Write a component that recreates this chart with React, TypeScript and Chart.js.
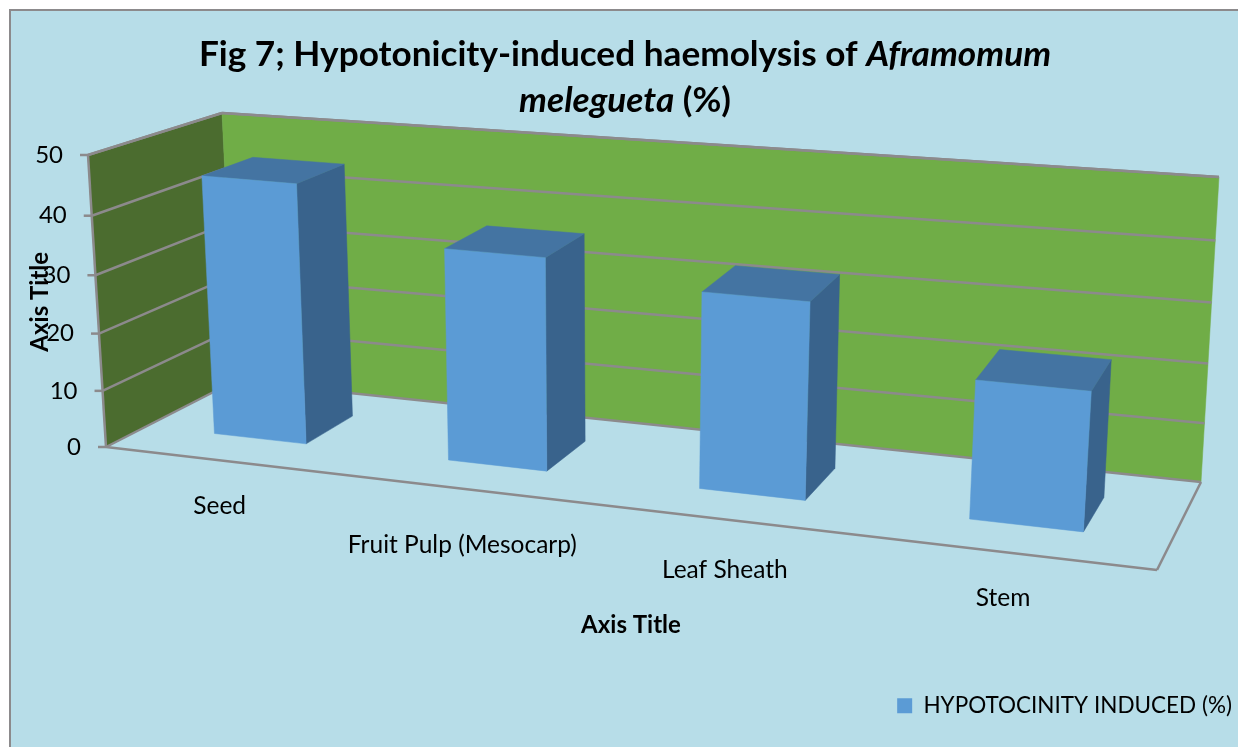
import React, { useEffect, useRef } from "react";
import { Chart, registerables } from "chart.js";

Chart.register(...registerables);

const categories = ["Seed", "Fruit Pulp (Mesocarp)", "Leaf Sheath", "Stem"];
const seriesName = "HYPOTOCINITY INDUCED (%)";
const seriesValues = [45.2, 36.5, 33.2, 23.1];
const yTicks = [0, 10, 20, 30, 40, 50];
const titleLine1 = [
  { text: "Fig 7; Hypotonicity-induced haemolysis of ", italic: false },
  { text: "Aframomum", italic: true },
];
const titleLine2 = [
  { text: "melegueta", italic: true },
  { text: " (%)", italic: false },
];

const FONT = "Lato, 'Noto Sans', sans-serif";
const BG = "#b7dde8";
const GREY = "#8c8a8c";

type Pt = [number, number];
// Screen-space frame of the 3D box (floor and top corners)
const F0: Pt = [106, 447], F1: Pt = [1157, 570], B0: Pt = [235, 381], B1: Pt = [1201, 482];
const T0: Pt = [88, 155], T1: Pt = [1179, 250], BT0: Pt = [222, 113], BT1: Pt = [1219, 177];
const BAR_W0 = 0.32, BAR_W1 = 0.72, K = 1.155, KV = 1.05;
const LABEL_NUDGE: Pt[] = [[-2, 46], [-3, 56], [-2, 50], [-5, 46]];

const lerp = (a: Pt, b: Pt, t: number): Pt => [a[0] + (b[0] - a[0]) * t, a[1] + (b[1] - a[1]) * t];
const warp = (u: number) => u / (K + (1 - K) * u);
const warpV = (v: number) => v / (KV + (1 - KV) * v);
function project(u: number, v: number, w: number): Pt {
  const s = warp(u);
  const floor = lerp(lerp(F0, F1, s), lerp(B0, B1, s), w);
  const top = lerp(lerp(T0, T1, s), lerp(BT0, BT1, s), w);
  return lerp(floor, top, warpV(v));
}

function poly(ctx: CanvasRenderingContext2D, pts: Pt[], fill: string) {
  ctx.beginPath();
  pts.forEach((p, i) => (i ? ctx.lineTo(p[0], p[1]) : ctx.moveTo(p[0], p[1])));
  ctx.closePath();
  ctx.fillStyle = fill;
  ctx.fill();
  ctx.strokeStyle = fill;
  ctx.lineWidth = 0.5;
  ctx.stroke();
}
function line(ctx: CanvasRenderingContext2D, a: Pt, b: Pt) {
  ctx.beginPath();
  ctx.moveTo(a[0], a[1]);
  ctx.lineTo(b[0], b[1]);
  ctx.strokeStyle = GREY;
  ctx.lineWidth = 2.5;
  ctx.stroke();
}
function drawRuns(ctx: CanvasRenderingContext2D, runs: { text: string; italic: boolean }[], cx: number, y: number, size: number) {
  const f = (it: boolean) => `${it ? "italic " : ""}bold ${size}px ${FONT}`;
  let total = 0;
  runs.forEach((r) => { ctx.font = f(r.italic); total += ctx.measureText(r.text).width; });
  let x = cx - total / 2;
  ctx.textAlign = "left";
  ctx.textBaseline = "middle";
  ctx.fillStyle = "#000";
  runs.forEach((r) => { ctx.font = f(r.italic); ctx.fillText(r.text, x, y); x += ctx.measureText(r.text).width; });
}

const box3d = {
  id: "box3d",
  beforeDraw(chart: any) {
    const { ctx, width, height } = chart;
    ctx.save();
    ctx.fillStyle = "#fff";
    ctx.fillRect(0, 0, width, height);
    ctx.fillStyle = BG;
    ctx.fillRect(10, 10, width - 10, height - 10);
    ctx.fillStyle = GREY;
    ctx.fillRect(9, 9, width - 9, 2);
    ctx.fillRect(9, 9, 2, height - 9);
    ctx.restore();
    drawRuns(ctx, titleLine1, 625, 55, 35.2);
    drawRuns(ctx, titleLine2, 625, 101, 35.2);
  },
  beforeDatasetsDraw(chart: any) {
    const { ctx, chartArea, scales } = chart;
    const y = scales.y;
    const vOf = (val: number) => (chartArea.bottom - y.getPixelForValue(val)) / (chartArea.bottom - chartArea.top);
    ctx.save();
    poly(ctx, [F0, B0, BT0, T0], "#4b6c2f");
    poly(ctx, [B0, B1, BT1, BT0], "#70ad47");
    line(ctx, F0, F1);
    line(ctx, F1, B1);
    line(ctx, B1, B0);
    line(ctx, B0, F0);
    line(ctx, T0, BT0);
    line(ctx, BT0, BT1);
    line(ctx, F0, T0);
    yTicks.forEach((val) => {
      const v = vOf(val);
      const a = project(0, v, 0), b = project(0, v, 1), c = project(1, v, 1);
      if (val > 0) { line(ctx, a, b); line(ctx, b, c); }
      line(ctx, [a[0] - 8, a[1]], a);
      ctx.fillStyle = "#000";
      ctx.font = `24px ${FONT}`;
      ctx.textAlign = "right";
      ctx.textBaseline = "middle";
      ctx.fillText(String(val), a[0] - 25, a[1]);
    });
    ctx.restore();
  },
  afterDatasetsDraw(chart: any) {
    const { ctx, chartArea } = chart;
    const meta = chart.getDatasetMeta(0);
    const U = (px: number) => (px - chartArea.left) / (chartArea.right - chartArea.left);
    const V = (py: number) => (chartArea.bottom - py) / (chartArea.bottom - chartArea.top);
    ctx.save();
    meta.data.forEach((el: any, i: number) => {
      const p = el.getProps(["x", "y", "base", "width"], true);
      const u0 = U(p.x - p.width / 2), u1 = U(p.x + p.width / 2);
      const v0 = V(p.base), v1 = V(p.y);
      poly(ctx, [project(u1, v0, BAR_W0), project(u1, v0, BAR_W1), project(u1, v1, BAR_W1), project(u1, v1, BAR_W0)], "#39638c");
      poly(ctx, [project(u0, v1, BAR_W0), project(u1, v1, BAR_W0), project(u1, v1, BAR_W1), project(u0, v1, BAR_W1)], "#4474a2");
      poly(ctx, [project(u0, v0, BAR_W0), project(u1, v0, BAR_W0), project(u1, v1, BAR_W0), project(u0, v1, BAR_W0)], "#5b9bd5");
      const f = project(U(p.x), 0, 0);
      ctx.fillStyle = "#000";
      ctx.font = `24.5px ${FONT}`;
      ctx.textAlign = "center";
      ctx.textBaseline = "middle";
      ctx.fillText(categories[i], f[0] + LABEL_NUDGE[i][0], f[1] + LABEL_NUDGE[i][1]);
    });
    ctx.restore();
  },
  beforeDatasetDraw() {
    return false;
  },
};

export default function App() {
  const ref = useRef<HTMLCanvasElement>(null);
  useEffect(() => {
    const chart = new Chart(ref.current!, {
      type: "bar",
      data: {
        labels: categories,
        datasets: [{ label: seriesName, data: seriesValues, backgroundColor: "#5b9bd5", barPercentage: 0.4, categoryPercentage: 1 }],
      },
      options: {
        responsive: false,
        animation: false,
        layout: { padding: { top: 155, left: 26, right: 0, bottom: 20 } },
        plugins: {
          title: { display: false },
          tooltip: { enabled: false },
          legend: {
            position: "bottom",
            align: "end",
            labels: { boxWidth: 15, boxHeight: 15, padding: 6, color: "#000", font: { family: FONT, size: 22.5 } },
          },
        },
        scales: {
          x: {
            grid: { display: false },
            border: { display: false },
            ticks: { display: false },
            title: { display: true, text: "Axis Title", color: "#000", font: { family: FONT, size: 24, weight: "bold" }, padding: { top: 0, bottom: 49 } },
            afterFit: (s: any) => { s.height = 240; },
          },
          y: {
            min: 0,
            max: 50,
            grid: { display: false },
            border: { display: false },
            ticks: { display: false, stepSize: 10 },
            title: { display: true, text: "Axis Title", color: "#000", font: { family: FONT, size: 24, weight: "bold" }, padding: { top: 0, bottom: 0 } },
            afterFit: (s: any) => { s.width = 105 - 26; },
          },
          yRight: {
            position: "right",
            display: true,
            min: 0,
            max: 50,
            grid: { display: false },
            border: { display: false },
            ticks: { display: false },
            afterFit: (s: any) => { s.width = 1238 - 1157; },
          },
        },
      },
      plugins: [box3d as any],
    } as any);
    return () => chart.destroy();
  }, []);
  return (
    <div style={{ position: "fixed", left: 0, top: 0, width: 1238, height: 747, overflow: "hidden" }}>
      <canvas ref={ref} width={1238} height={747} style={{ display: "block" }} />
    </div>
  );
}
